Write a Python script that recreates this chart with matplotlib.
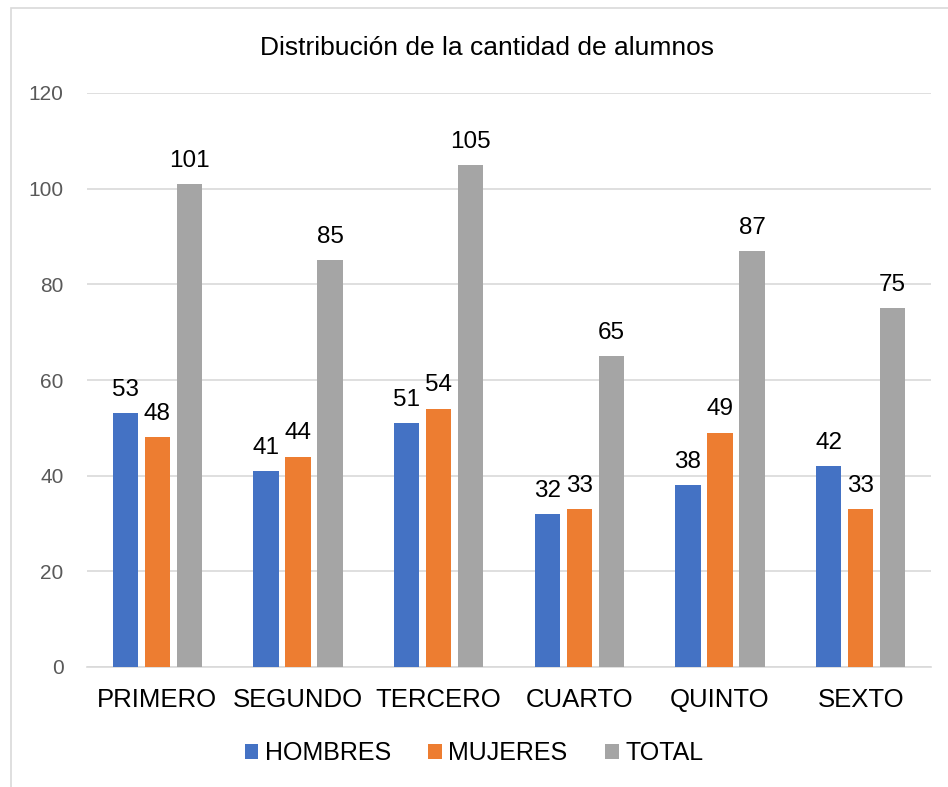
import matplotlib.pyplot as plt
import numpy as np
from matplotlib.patches import Rectangle

plt.rcParams['font.family'] = ['Liberation Sans', 'DejaVu Sans']

# datos del grafico
grados = ["PRIMERO", "SEGUNDO", "TERCERO", "CUARTO", "QUINTO", "SEXTO"]
hombres = [53, 41, 51, 32, 38, 42]
mujeres = [48, 44, 54, 33, 49, 33]
total = [101, 85, 105, 65, 87, 75]

series = [("HOMBRES", hombres, "#4472C4"),
          ("MUJERES", mujeres, "#ED7D31"),
          ("TOTAL", total, "#A5A5A5")]

fig = plt.figure(figsize=(9.48, 7.87), dpi=100)
# borde del area del grafico
fig.patches.append(Rectangle((11 / 948, -0.05), 1.0, 1 - 8 / 787 + 0.05,
                             transform=fig.transFigure, fill=False,
                             edgecolor="#D9D9D9", linewidth=1.2))

ax = fig.add_axes([87 / 948, 1 - 667 / 787, 844 / 948, (667 - 93) / 787])

x = np.arange(len(grados))
ancho = 0.18
paso = 0.228
for i, (nombre, valores, color) in enumerate(series):
    pos = x + (i - 1) * paso
    barras = ax.bar(pos, valores, ancho, color=color, label=nombre, zorder=3)
    for b, v in zip(barras, valores):
        ax.text(b.get_x() + b.get_width() / 2, v + 3.6, str(v),
                ha="center", va="baseline", fontsize=17.5, color="black")

ax.set_xlim(-0.5, len(grados) - 0.5)
ax.set_ylim(0, 120)
ax.set_yticks(range(0, 121, 20))
ax.set_xticks(x)
ax.set_xticklabels(grados, fontsize=18.5)
ax.tick_params(axis="y", labelsize=15, labelcolor="#595959", length=0, pad=17)
ax.tick_params(axis="x", length=0, pad=15)
ax.grid(axis="y", color="#D9D9D9", linewidth=1.2, zorder=0)
for s in ["top", "right", "left"]:
    ax.spines[s].set_visible(False)
ax.spines["bottom"].set_color("#D9D9D9")
ax.spines["bottom"].set_linewidth(1.2)

fig.text(487 / 948, 1 - 48 / 787, "Distribución de la cantidad de alumnos",
         ha="center", va="center", fontsize=19)

fig.legend(loc="center", bbox_to_anchor=(0.5, 1 - 753 / 787), ncol=3,
           frameon=False, fontsize=18, handlelength=0.55, handleheight=0.55,
           handletextpad=0.25, columnspacing=1.5)

fig.savefig("out.png", dpi=100)
